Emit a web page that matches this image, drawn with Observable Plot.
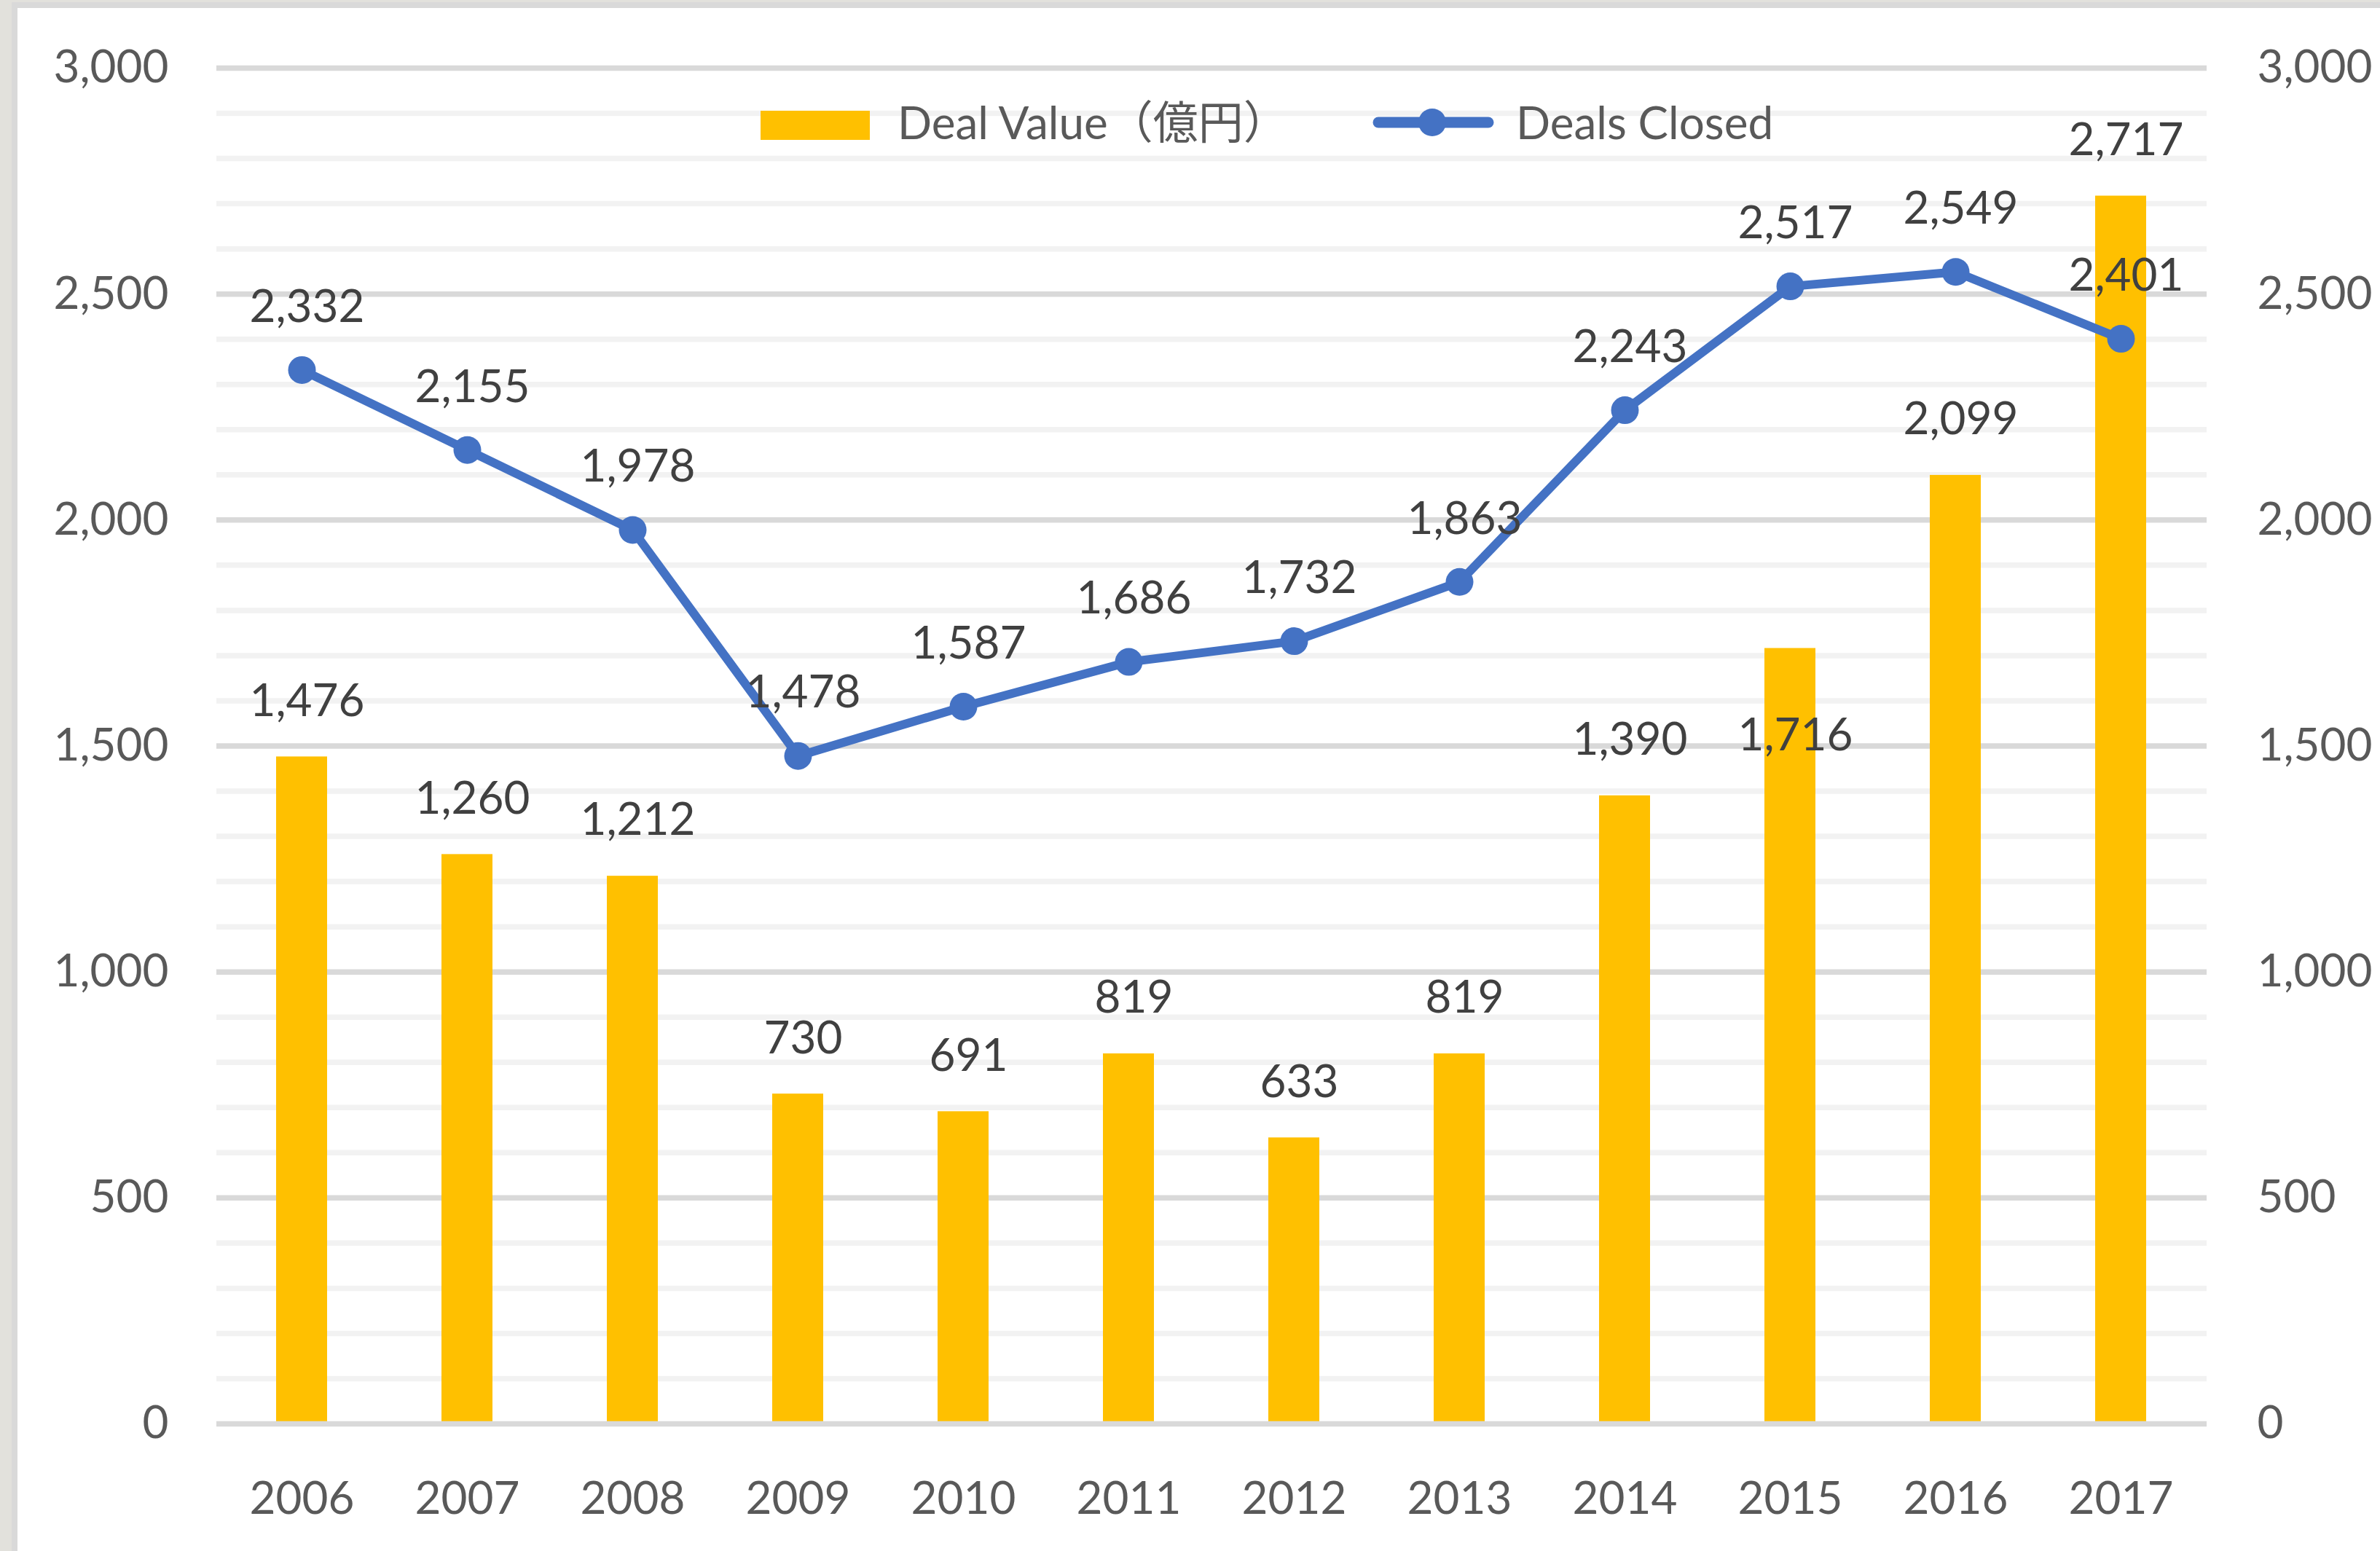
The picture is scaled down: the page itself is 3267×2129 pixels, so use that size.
<!DOCTYPE html>
<html>
<head>
<meta charset="utf-8">
<script src="https://cdn.jsdelivr.net/npm/d3@7"></script>
<script src="https://cdn.jsdelivr.net/npm/@observablehq/plot@0.6"></script>
<style>
  html, body { margin: 0; padding: 0; }
  body { width: 3267px; height: 2129px; background: #e2e1dc; position: relative; overflow: hidden; }
  #panel { position: absolute; left: 16px; top: 3px; right: 0; bottom: 0; background: #ffffff;
           border-left: 8px solid #d9d9d9; border-top: 8px solid #d9d9d9; }
  #chart { position: absolute; left: 0; top: 0; }
  #legend { position: absolute; left: 0; top: 0; }
  #legend text { font-family: Lato, "Noto Sans CJK JP", sans-serif; font-size: 62px; fill: #595959; }
</style>
</head>
<body>
<div id="panel"></div>
<div id="chart"></div>
<svg id="legend" width="3267" height="260">
  <rect x="1044" y="152" width="150" height="40" fill="#FFC000"></rect>
  <text x="1232" y="191">Deal Value（億円）</text>
  <line x1="1892" x2="2043" y1="168" y2="168" stroke="#4472C4" stroke-width="15" stroke-linecap="round"></line>
  <circle cx="1966" cy="168" r="19" fill="#4472C4"></circle>
  <text x="2081" y="191">Deals Closed</text>
</svg>
<script>
const years = ["2006","2007","2008","2009","2010","2011","2012","2013","2014","2015","2016","2017"];
const dealValue = [1476, 1260, 1212, 730, 691, 819, 633, 819, 1390, 1716, 2099, 2717];
const dealsClosed = [2332, 2155, 1978, 1478, 1587, 1686, 1732, 1863, 2243, 2517, 2549, 2401];
const yTicks = [0, 500, 1000, 1500, 2000, 2500, 3000];
const minorTicks = d3.range(100, 3000, 100).filter(v => v % 500 !== 0);

const table = years.map((year, i) => ({year, value: dealValue[i], closed: dealsClosed[i]}));
const fmt = d3.format(",");
const labelBelowBar = new Set(["2015"]);

const chart = Plot.plot({
  width: 3267,
  height: 2129,
  marginLeft: 297,
  marginRight: 238,
  marginTop: 93,
  marginBottom: 175,
  style: {background: "transparent", fontFamily: "Lato, 'Noto Sans', sans-serif", fontSize: "62px", color: "#595959", overflow: "visible"},
  x: {domain: years, paddingInner: 0.69, paddingOuter: 0.345, label: null},
  y: {domain: [0, 3000], label: null},
  marks: [
    Plot.ruleY(minorTicks, {stroke: "#f2f2f2", strokeWidth: 7.5}),
    Plot.ruleY(yTicks.filter(v => v > 0), {stroke: "#d9d9d9", strokeWidth: 7.5}),
    Plot.barY(table, {x: "year", y: "value", fill: "#FFC000"}),
    Plot.ruleY([0], {stroke: "#d9d9d9", strokeWidth: 7.5}),
    Plot.line(table, {x: "year", y: "closed", stroke: "#4472C4", strokeWidth: 12, strokeLinejoin: "round"}),
    Plot.dot(table, {x: "year", y: "closed", r: 19, fill: "#4472C4"}),
    Plot.text(table.filter(d => !labelBelowBar.has(d.year)), {x: "year", y: "value", text: d => fmt(d.value), dy: -76, dx: 7, fill: "#404040"}),
    Plot.text(table.filter(d => labelBelowBar.has(d.year)), {x: "year", y: "value", text: d => fmt(d.value), dy: 120, dx: 7, fill: "#404040"}),
    Plot.text(table, {x: "year", y: "closed", text: d => fmt(d.closed), dy: -86, dx: 7, fill: "#404040"}),
    Plot.axisX({tickSize: 0, tickPadding: 79, label: null, color: "#595959"}),
    Plot.axisY({anchor: "left", ticks: yTicks, tickSize: 0, tickPadding: 66, tickFormat: fmt, label: null, color: "#595959"}),
    Plot.axisY({anchor: "right", ticks: yTicks, tickSize: 0, tickPadding: 69, tickFormat: fmt, label: null, color: "#595959"})
  ]
});
document.getElementById("chart").appendChild(chart);
</script>
</body>
</html>
